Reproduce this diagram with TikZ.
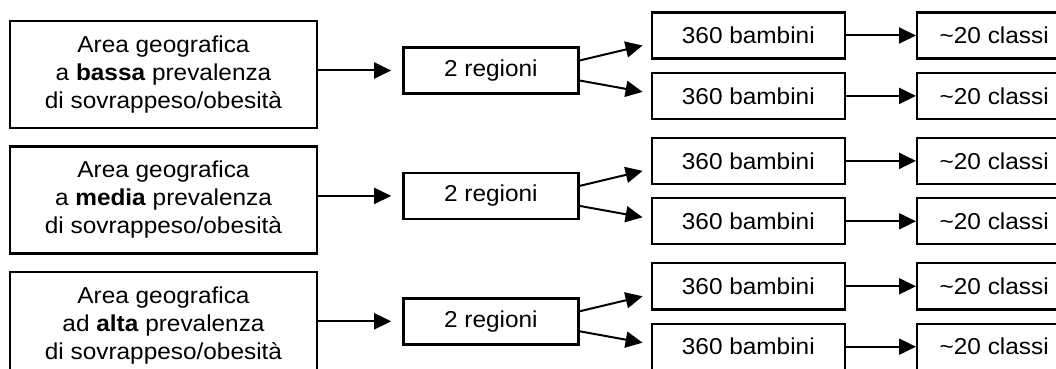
\documentclass[tikz,border=0pt]{standalone}
\usepackage{fontspec}
\setmainfont[FakeStretch=1.06]{Liberation Sans}
\usetikzlibrary{arrows.meta,positioning}

\begin{document}
\begin{tikzpicture}[
  font=\fontsize{11.5pt}{14pt}\selectfont,
  >={Triangle[length=8.5pt,width=8pt]},
  area/.style={draw,line width=1.2pt,minimum width=153.5pt,minimum height=53.5pt,align=center,inner sep=0pt},
  box/.style={draw,line width=1.2pt,minimum height=23pt,inner sep=0pt},
  reg/.style={box,minimum width=87.5pt},
  kids/.style={box,minimum width=96.5pt},
  cls/.style={box,minimum width=77pt},
  arrow/.style={->,line width=1pt}
]
  \path[use as bounding box,clip] (0,0) rectangle (528pt,-184.5pt);

  % aree geografiche
  \node[area] (low) at (81.75pt,-37.25pt)
    {Area geografica\\a \textbf{bassa} prevalenza\\di sovrappeso/obesità};
  \node[area,below=8pt of low] (mid)
    {Area geografica\\a \textbf{media} prevalenza\\di sovrappeso/obesità};
  \node[area,below=8pt of mid] (high)
    {Area geografica\\ad \textbf{alta} prevalenza\\di sovrappeso/obesità};

  % regioni
  \node[reg,right=42pt of low,yshift=2pt] (reglow) {2 regioni};
  \node[reg,right=42pt of mid,yshift=2pt] (regmid) {2 regioni};
  \node[reg,right=42pt of high,yshift=2pt] (reghigh) {2 regioni};

  % bambini
  \node[kids,right=35.5pt of reglow,yshift=17.5pt] (kidlowa) {360 bambini};
  \node[kids,below=6pt of kidlowa] (kidlowb) {360 bambini};
  \node[kids,right=35.5pt of regmid,yshift=17.5pt] (kidmida) {360 bambini};
  \node[kids,below=6pt of kidmida] (kidmidb) {360 bambini};
  \node[kids,right=35.5pt of reghigh,yshift=17.5pt] (kidhigha) {360 bambini};
  \node[kids,below=6pt of kidhigha] (kidhighb) {360 bambini};

  % classi
  \node[cls,right=35pt of kidlowa] (clslowa) {\textasciitilde 20 classi};
  \node[cls,right=35pt of kidlowb] (clslowb) {\textasciitilde 20 classi};
  \node[cls,right=35pt of kidmida] (clsmida) {\textasciitilde 20 classi};
  \node[cls,right=35pt of kidmidb] (clsmidb) {\textasciitilde 20 classi};
  \node[cls,right=35pt of kidhigha] (clshigha) {\textasciitilde 20 classi};
  \node[cls,right=35pt of kidhighb] (clshighb) {\textasciitilde 20 classi};

  \draw[arrow] (low.east |- reglow) -- ([xshift=-5.5pt]reglow.west);
  \draw[arrow] (mid.east |- regmid) -- ([xshift=-5.5pt]regmid.west);
  \draw[arrow] (high.east |- reghigh) -- ([xshift=-5.5pt]reghigh.west);

  \draw[arrow] ([yshift=5pt]reglow.east) -- ([xshift=-4pt,yshift=-5pt]kidlowa.west);
  \draw[arrow] ([yshift=-5pt]reglow.east) -- ([xshift=-4pt,yshift=2pt]kidlowb.west);
  \draw[arrow] ([yshift=5pt]regmid.east) -- ([xshift=-4pt,yshift=-5pt]kidmida.west);
  \draw[arrow] ([yshift=-5pt]regmid.east) -- ([xshift=-4pt,yshift=2pt]kidmidb.west);
  \draw[arrow] ([yshift=5pt]reghigh.east) -- ([xshift=-4pt,yshift=-5pt]kidhigha.west);
  \draw[arrow] ([yshift=-5pt]reghigh.east) -- ([xshift=-4pt,yshift=2pt]kidhighb.west);

  \draw[arrow] (kidlowa) -- (clslowa);
  \draw[arrow] (kidlowb) -- (clslowb);
  \draw[arrow] (kidmida) -- (clsmida);
  \draw[arrow] (kidmidb) -- (clsmidb);
  \draw[arrow] (kidhigha) -- (clshigha);
  \draw[arrow] (kidhighb) -- (clshighb);
\end{tikzpicture}
\end{document}
